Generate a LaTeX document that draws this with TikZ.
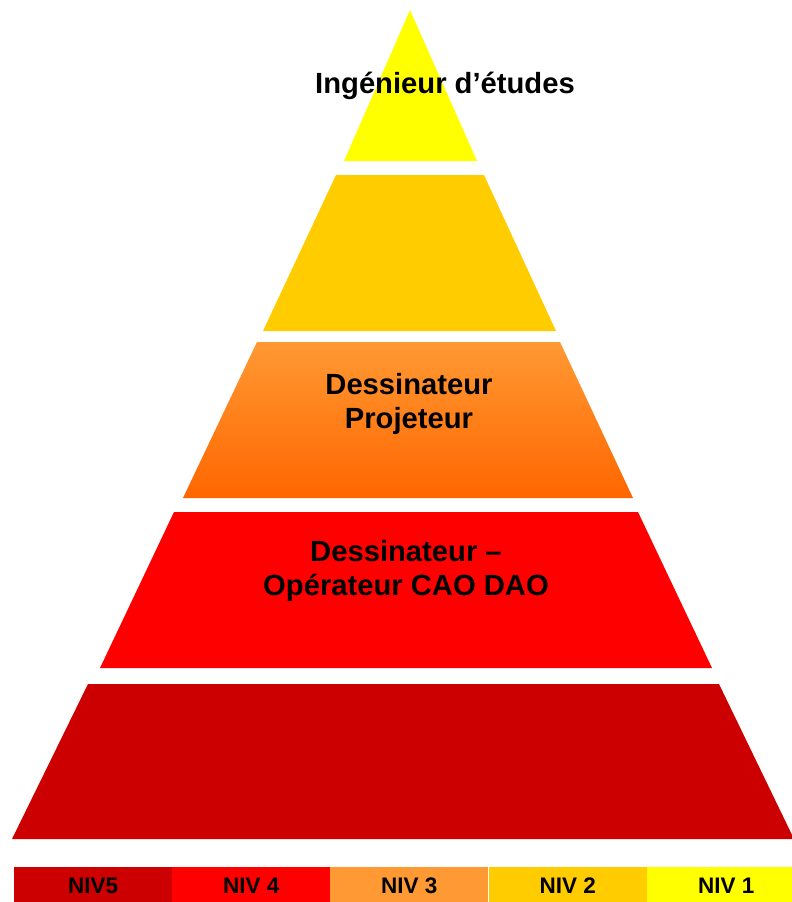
\documentclass[tikz,border=0pt]{standalone}
\usepackage{fontspec}
\setmainfont{Liberation Sans}
\definecolor{niva}{HTML}{FFFF00}
\definecolor{nivb}{HTML}{FFCC00}
\definecolor{nivc}{HTML}{FF9933}
\definecolor{nivcd}{HTML}{FF6600}
\definecolor{nivd}{HTML}{FF0000}
\definecolor{nive}{HTML}{CC0000}
\tikzset{
  lvltext/.style={align=center,font=\fontsize{29.2}{34}\selectfont\bfseries,text=black,inner sep=0pt},
  legbox/.style={draw=none,minimum width=158pt,minimum height=36pt,anchor=north west,inner sep=0pt,
    text height=16pt,text depth=0pt,
    font=\fontsize{22.5}{26}\selectfont\bfseries,text=black}
}
\begin{document}
\begin{tikzpicture}[x=1pt,y=-1pt]
\useasboundingbox (0,0) rectangle (792,902);
\clip (0,0) rectangle (792,902);
% level 1 (apex)
\fill[niva] (410,10) -- (477,161) -- (344,161) -- cycle;
% level 2
\fill[nivb] (336,175) -- (484,175) -- (556,331) -- (263,331) -- cycle;
% level 3 (gradient)
\shade[top color=nivc,bottom color=nivcd] (257,342) -- (560,342) -- (633,498) -- (183,498) -- cycle;
% level 4
\fill[nivd] (174,512) -- (638,512) -- (712,668) -- (100,668) -- cycle;
% level 5
\fill[nive] (88,684) -- (719,684) -- (794,839) -- (12,839) -- cycle;
% texts
\node[lvltext] (t1) at (445,86) {Ingénieur d’études};
\node[lvltext] (t3) at (409,404) {Dessinateur\\Projeteur};
\node[lvltext] (t4) at (406,571) {Dessinateur –\\Opérateur CAO DAO};
% legend
\node[legbox,fill=nive] (l5) at (14,867) {NIV5};
\node[legbox,fill=nivd] (l4) at (172,867) {NIV 4};
\node[legbox,fill=nivc] (l3) at (330,867) {NIV 3};
\node[legbox,fill=nivb] (l2) at (488.5,867) {NIV 2};
\node[legbox,fill=niva] (l1) at (647,867) {NIV 1};
\end{tikzpicture}
\end{document}
